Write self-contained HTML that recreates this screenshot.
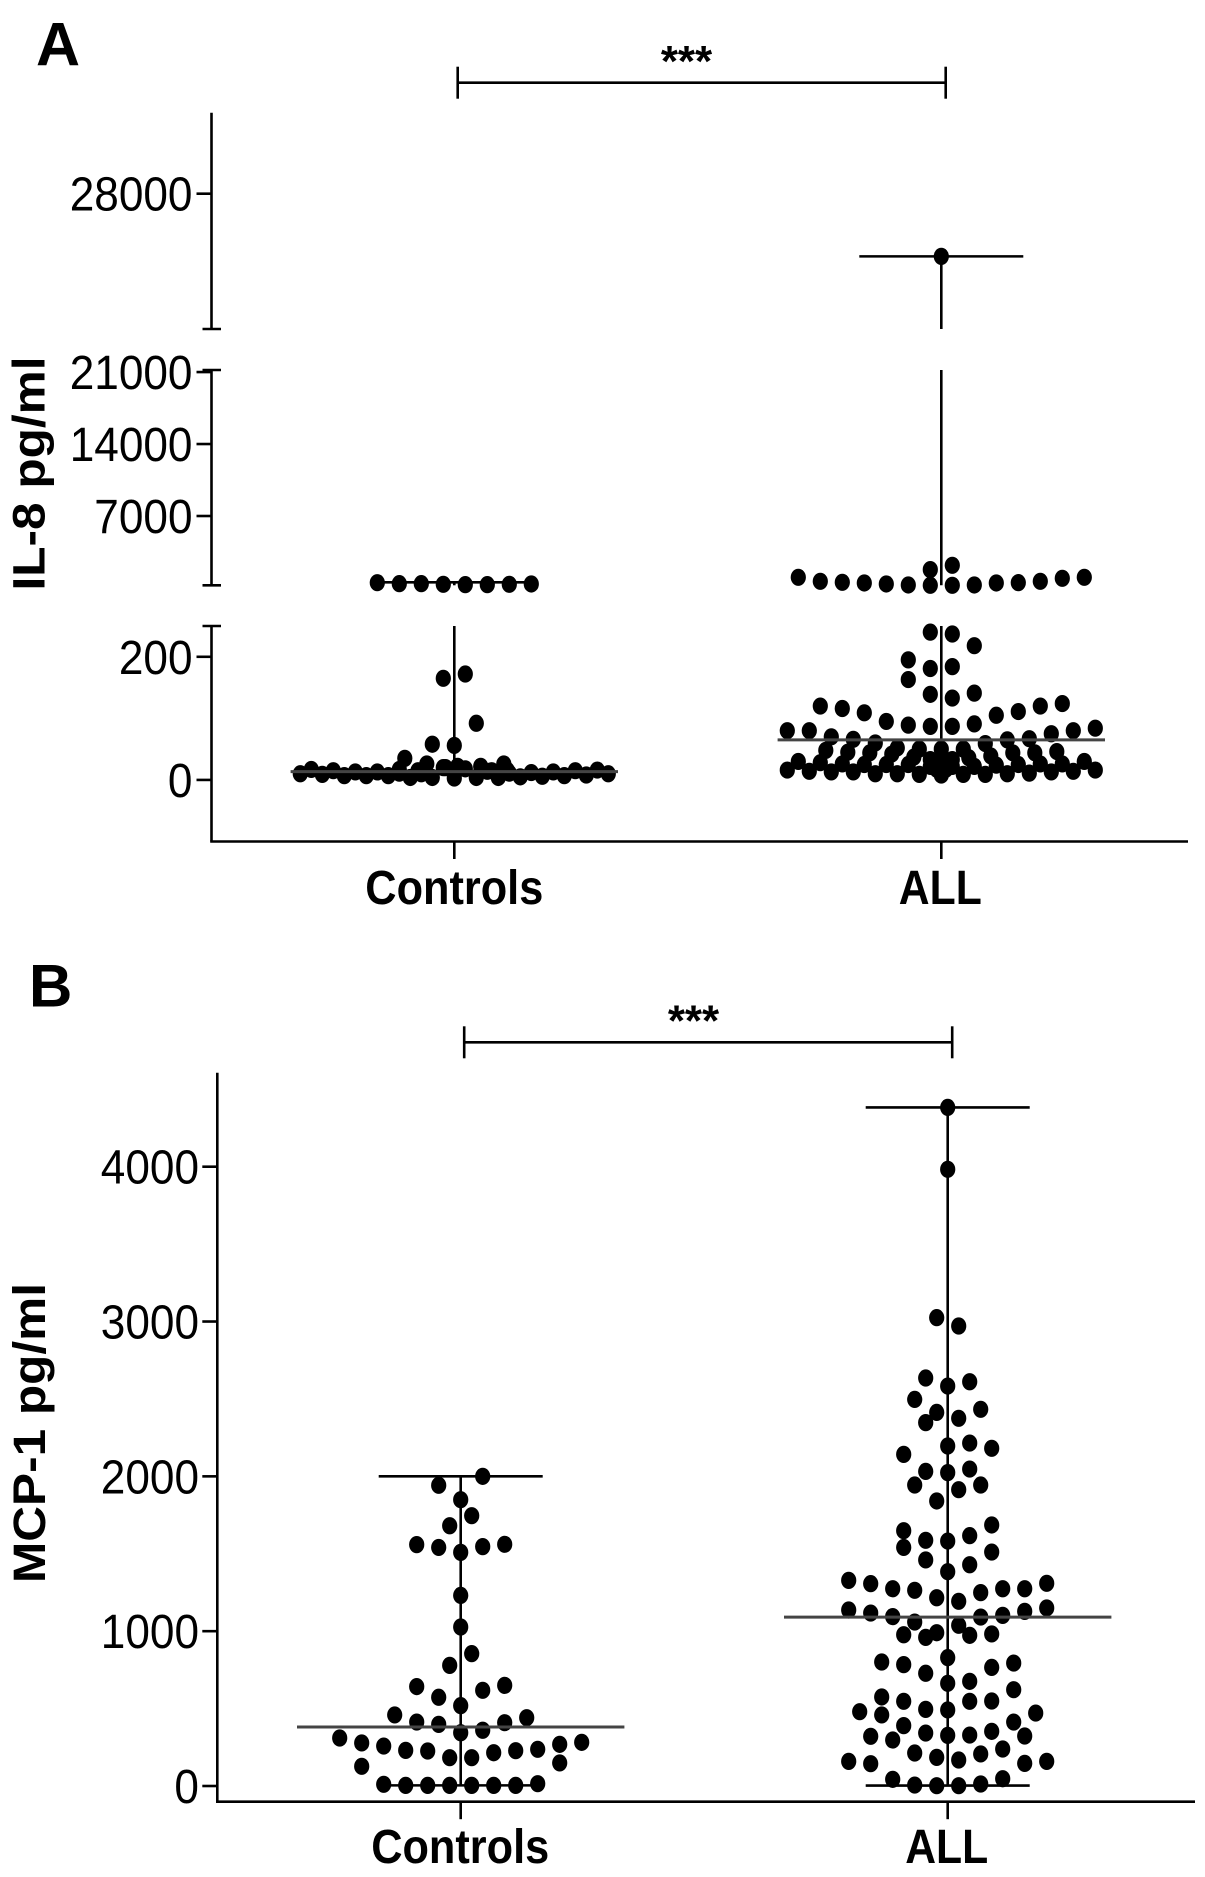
<!DOCTYPE html>
<html lang="en">
<head>
<meta charset="utf-8">
<title>IL-8 and MCP-1 in Controls and ALL</title>
<style>
html,body{margin:0;padding:0;background:#fff;}
svg{display:block;}
text{font-family:"Liberation Sans",Arial,sans-serif;fill:#000;}
</style>
</head>
<body>
<svg id="figure" xmlns="http://www.w3.org/2000/svg" width="1205" height="1877" viewBox="0 0 1205 1877">
  <rect width="1205" height="1877" fill="#fff"/>
  <text x="36" y="65.7" font-size="61" font-weight="700">A</text>
  <text x="29" y="1006.7" font-size="60" font-weight="700">B</text>
  <text transform="translate(44.3,590.5) rotate(-90)" font-size="45" font-weight="700" textLength="234" lengthAdjust="spacingAndGlyphs">IL-8 pg/ml</text>
  <text transform="translate(45,1583) rotate(-90)" font-size="45" font-weight="700" textLength="300" lengthAdjust="spacingAndGlyphs">MCP-1 pg/ml</text>
  <text x="686.5" y="76" font-size="44" font-weight="700" text-anchor="middle">***</text>
  <text x="693.5" y="1035.5" font-size="44" font-weight="700" text-anchor="middle">***</text>
</svg>
<script>
const categories = ['Controls', 'ALL'];

const il8TickValues = [28000, 21000, 14000, 7000, 200, 0];
const il8TickLabels = ['28000', '21000', '14000', '7000', '200', '0'];
const mcp1TickValues = [4000, 3000, 2000, 1000, 0];
const mcp1TickLabels = ['4000', '3000', '2000', '1000', '0'];

const il8Medians = [13.5, 65];
const il8Maximums = [554, 24850];
const il8Minimums = [3, 8];
const mcp1Medians = [381, 1091];
const mcp1Maximums = [2000, 4383];
const mcp1Minimums = [4, 3];

const il8ControlsValues = [516,420,420,355,323,323,355,389,
  165,172,92,58,56,35,26,
  10,9,7,7,7,4,4,3,4,4,5,6,7,8,10,
  17,15,13,13,11,10,20,19,22,26,11,12,13,15,16,14,
  17,15,20,22,18,15,16];
const il8ControlsLanes = [-7,-5,-3,-1,1,3,5,7,
  -1,1,2,-2,0,-4.5,-2.5,
  -14,-12,-10,-8,-6,-4,-2,0,2,4,6,8,10,12,14,
  -13,-11,-9,-7,-5,-3,-1,0.5,2.4,4.5,5,7,9,11,13,3,
  -5,-3.3,-0.8,0.3,1,3.4,4.8];

const il8AllValues = [24850,
  1037,648,551,486,389,292,259,1783,259,2204,292,486,518,648,940,1037,
  240,237,218,195,184,181,163,141,139,133,120,116,109,124,120,111,105,95,89,87,87,91,
  80,80,70,66,60,59,65,67,75,80,84,
  48,45,44,52,42,50,37,50,50,36,39,44,44,46,
  30,28,26,25,25,25,33,33,38,22,24,25,26,26,30,
  16,14,13,13,10,10,9,8,9,9,10,11,13,14,16,
  22,22,17,17];
const il8AllLanes = [0,
  -13,-11,-9,-7,-5,-3,-1,-1,1,1,3,5,7,9,11,13,
  -1,1,3,-3,1,-1,-3,3,-1,1,-11,-9,-7,11,9,7,5,-5,-3,-1,1,3,
  -14,-12,-10,-8,-6,4,6,8,10,12,14,
  -10.5,-8.5,-6.5,-4,-4.5,-2,-2.5,0,2,2.5,4.5,6.5,8.5,10.5,
  -13,-11,-9,-7,-5,-3,-1,1,0,3,5,7,9,11,13,
  -14,-12,-10,-8,-6,-4,-2,0,2,4,6,8,10,12,14,
  -1,1,-0.4,0.4];

const mcp1ControlsValues = [2000,1942,1849,1746,1681,1559,1541,1509,1546,1561,1231,1027,855,779,642,573,618,650,519,459,413,398,344,360,409,441,310,278,258,230,226,183,183,215,228,237,269,282,127,149,11,4,4,4,4,4,4,15];
const mcp1ControlsLanes = [2,-2,0,1,-1,-4,-2,0,2,4,0,0,1,-1,-4,-2,2,4,0,-6,-4,-2,0,2,4,6,-11,-9,-7,-5,-3,-1,1,3,5,7,9,11,-9,9,-7,-5,-3,-1,1,3,5,7];

const mcp1AllValues = [4383,3983,3025,2971,2635,2611,2583,2497,2413,2347,2375,2433,2196,2215,2181,2142,2032,2024,2047,
  1944,1944,1914,1841,1686,1649,1617,1587,1582,1541,1511,1460,1429,1384,1328,1309,1307,1274,1264,1274,1274,1249,1216,1193,
  1150,1137,1117,1128,1094,1091,1102,1059,1038,990,977,960,973,982,829,801,784,794,766,728,676,663,622,575,547,547,549,495,491,480,459,471,413,390,342,327,353,329,321,323,297,239,213,207,185,168,159,159,144,146,43,47,6,2,2,13];
const mcp1AllLanes = [0,0,-1,1,-2,2,0,-3,-1,-2,1,3,0,2,4,-4,-2,0,2,
  -3,3,1,-1,4,-4,2,-2,0,-4,4,-2,2,0,-9,9,-7,-5,-3,5,7,3,-1,1,
  9,-9,-7,7,-5,3,5,-3,1,-1,-4,-2,2,4,0,-6,-4,6,4,-2,2,0,6,-6,-4,2,4,-2,0,-8,-6,8,6,-4,-2,0,4,2,-7,7,-5,5,-3,3,-1,1,-9,9,-7,7,-5,5,-3,-1,1,3];

const SVG_NS = 'http://www.w3.org/2000/svg';
const figure = document.getElementById('figure');
const LANE_WIDTH = 11;
const CAP_HALF = 82;
const MEDIAN_HALF = 163.7;

function svgEl(tag, attrs) {
  const el = document.createElementNS(SVG_NS, tag);
  for (const key in attrs) el.setAttribute(key, attrs[key]);
  figure.appendChild(el);
  return el;
}
function linear(d0, d1, r0, r1) {
  return v => r0 + (v - d0) * (r1 - r0) / (d1 - d0);
}
function seg(x1, y1, x2, y2, w, color) {
  return svgEl('line', {x1, y1, x2, y2, stroke: color || '#000', 'stroke-width': w || 2.6});
}

/* Panel A: broken y axis, three linear segments */
const il8Segments = [
  {lo: -100, hi: 250, scale: linear(-100, 250, 841.5, 626)},
  {lo: 260, hi: 21200, scale: linear(260, 21200, 585.3, 370)},
  {lo: 21200, hi: 32070, scale: linear(21200, 32070, 329, 112.7)}
];
function il8Y(v) {
  if (v < 255) return il8Segments[0].scale(v);
  if (v <= 21200) return il8Segments[1].scale(v);
  return il8Segments[2].scale(v);
}
/* Panel B: single linear y axis */
const mcp1Segments = [{lo: -100, hi: 4607, scale: linear(0, 4000, 1786, 1166.7)}];
function mcp1Y(v) { return mcp1Segments[0].scale(v); }

function drawPanel(p) {
  /* y axis segments and break caps */
  p.segments.forEach((s, i) => {
    const top = s.scale(s.hi), bottom = s.scale(s.lo);
    const axis = seg(p.axisX, top, p.axisX, bottom);
    
    
    if (p.segments.length > 1) {
      if (i > 0) {
        const low = seg(p.axisX - 9, bottom, p.axisX + 9.5, bottom);
        
        
      }
      if (i < p.segments.length - 1) {
        const high = seg(p.axisX - 9, top, p.axisX + 9.5, top);
        
        
      }
    }
  });
  /* x axis */
  const xAxis = seg(p.axisX - 1.3, p.baseY, p.xEnd, p.baseY);
  
  
  /* y ticks */
  p.tickValues.forEach((v, i) => {
    const y = p.y(v);
    const tick = seg(p.axisX - 15, y, p.axisX, y);
    
    
    const label = svgEl('text', {
      transform: 'translate(' + p.labelRight + ',' + (y + 17) + ') scale(0.92,1)',
      'font-size': 48, 'text-anchor': 'end'
    });
    label.textContent = p.tickLabels[i];
    
    
  });
  /* groups */
  categories.forEach((name, g) => {
    const cx = p.centers[g];
    const groupId = p.id + '-' + name.toLowerCase();
    const xTick = seg(cx, p.baseY, cx, p.baseY + 17.5);
    
    
    const cat = svgEl('text', {
      x: cx + p.labelShifts[g], y: p.labelY, 'font-size': 48, 'font-weight': 700,
      'text-anchor': 'middle', textLength: p.labelWidths[g], lengthAdjust: 'spacingAndGlyphs'
    });
    cat.textContent = name;
    
    

    /* range whisker, interrupted at the axis breaks */
    const lo = p.minimums[g], hi = p.maximums[g];
    p.segments.forEach(s => {
      const a = Math.max(lo, s.lo), b = Math.min(hi, s.hi);
      if (a >= b) return;
      const w = seg(cx, p.y(b), cx, s.scale(a));
      
      
    });
    const capHigh = seg(cx - CAP_HALF, p.y(hi), cx + CAP_HALF, p.y(hi));
    
    
    if (p.drawMinCap) {
      const capLow = seg(cx - CAP_HALF, p.y(lo), cx + CAP_HALF, p.y(lo));
      
      
    }
    /* dots */
    p.values[g].forEach((v, i) => {
      const dot = svgEl('ellipse', {
        cx: cx + p.lanes[g][i] * LANE_WIDTH, cy: p.y(v), rx: 7.6, ry: 8.6, fill: '#000'
      });
      
      
    });
    /* median */
    const med = p.y(p.medians[g]);
    const medLine = seg(cx - MEDIAN_HALF, med, cx + MEDIAN_HALF, med, 3, '#444');
    
    
  });
  /* significance bracket */
  const br = seg(p.bracket[0], p.bracket[2], p.bracket[1], p.bracket[2]);
  
  
  p.bracket.slice(0, 2).forEach(x => {
    const end = seg(x, p.bracket[2] - 16, x, p.bracket[2] + 16);
    
    
  });
}

drawPanel({
  id: 'il8', axisX: 211.5, baseY: 841.5, xEnd: 1188, labelRight: 192.5,
  segments: il8Segments, y: il8Y, tickValues: il8TickValues, tickLabels: il8TickLabels,
  centers: [454.3, 941.3], labelY: 904, labelShifts: [0, -1], labelWidths: [178, 83],
  values: [il8ControlsValues, il8AllValues], lanes: [il8ControlsLanes, il8AllLanes],
  medians: il8Medians, maximums: il8Maximums, minimums: il8Minimums,
  drawMinCap: false, bracket: [457.7, 945.7, 82.7]
});
drawPanel({
  id: 'mcp1', axisX: 217.3, baseY: 1801.7, xEnd: 1195, labelRight: 199,
  segments: mcp1Segments, y: mcp1Y, tickValues: mcp1TickValues, tickLabels: mcp1TickLabels,
  centers: [460.7, 947.7], labelY: 1863, labelShifts: [-0.5, -1], labelWidths: [178, 83],
  values: [mcp1ControlsValues, mcp1AllValues], lanes: [mcp1ControlsLanes, mcp1AllLanes],
  medians: mcp1Medians, maximums: mcp1Maximums, minimums: mcp1Minimums,
  drawMinCap: true, bracket: [464.2, 952.2, 1042.3]
});
</script>
</body>
</html>
